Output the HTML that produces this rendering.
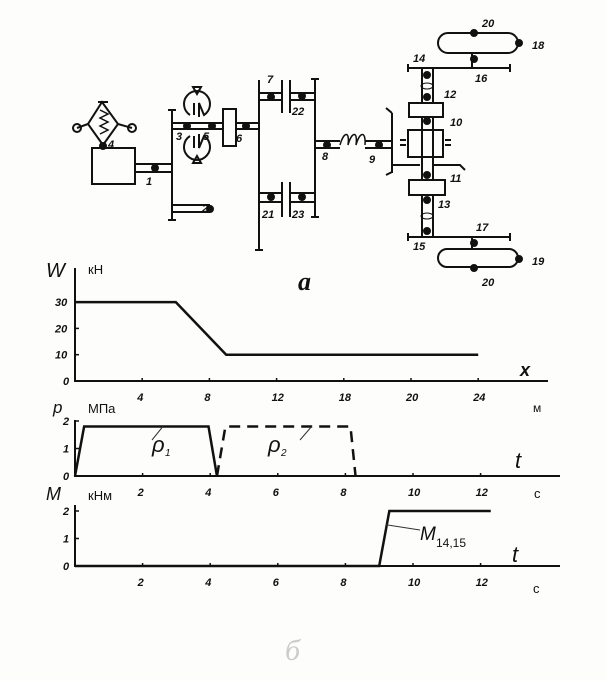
<!DOCTYPE html>
<html><head><meta charset="utf-8"><style>
html,body{margin:0;padding:0;background:#fdfdfb;}
svg{display:block;}
text{font-family:"Liberation Sans",sans-serif;fill:#111;}
.n{font-size:11px;font-style:italic;font-weight:bold;}
.tk{font-size:11px;font-style:italic;font-weight:bold;}
</style></head><body>
<svg id="fig" width="606" height="680" viewBox="0 0 606 680">
<g id="schema" stroke="#111" stroke-width="2" fill="none">
  <rect x="92" y="148" width="43" height="36"/>
  <path d="M102 102 L88 124 L103 145 L118 124 Z M98 102 h10 M88 124 L77 128 M118 124 L132 128"/>
  <path d="M100 110 l8 4 l-8 4 l8 4 l-8 4 l8 4 l-8 4" stroke-width="1.5"/>
  <circle cx="77" cy="128" r="4"/><circle cx="132" cy="128" r="4"/>
  <circle cx="103" cy="146" r="3" fill="#111"/>
  <path d="M135 164 H172 M135 172 H172"/><circle cx="155" cy="168" r="3" fill="#111"/>
  <path d="M172 110 V220 M168 110 h8 M168 220 h8"/>
  <path d="M173 205 H210 M173 212 H210"/><circle cx="210" cy="209" r="3" fill="#111"/>
  <path d="M173 123 H223 M173 129 H223"/><circle cx="187" cy="126" r="3" fill="#111"/><circle cx="212" cy="126" r="3" fill="#111"/>
  <path d="M190 115 A13 13 0 1 1 204 115 L199 103 L199 117 M194 115 L194 103" />
  <path d="M190 136 A13 13 0 1 0 204 136 L199 148 L199 134 M194 136 L194 148"/>
  <path d="M193 87 h8 l-4 7 z M193 163 h8 l-4 -7 z"/>
  <rect x="223" y="109" width="13" height="37"/>
  <path d="M236 123 H259 M236 129 H259"/><circle cx="246" cy="126" r="3" fill="#111"/>
  <path d="M259 80 V250 M255 250 h8"/>
  <path d="M259 93 H282 M259 100 H282 M282 80 V113 M290 80 V113 M290 93 H315 M290 100 H315"/>
  <circle cx="271" cy="97" r="3" fill="#111"/><circle cx="302" cy="96" r="3" fill="#111"/>
  <path d="M259 193 H282 M259 202 H282 M282 182 V217 M290 182 V217 M290 193 H315 M290 202 H315"/>
  <circle cx="271" cy="197" r="3" fill="#111"/><circle cx="302" cy="197" r="3" fill="#111"/>
  <path d="M315 79 V217 M311 79 h8 M311 217 h8"/>
  <path d="M315 141 H340 M315 148 H340 M365 141 H392 M365 148 H392"/>
  <circle cx="327" cy="145" r="3" fill="#111"/><circle cx="379" cy="145" r="3" fill="#111"/>
  <path d="M340 145 c4 -14 10 -14 8 0 c4 -14 10 -14 8 0 c4 -14 10 -14 9 0" stroke-width="1.5"/>
  <path d="M392 113 V173 M386 108 l6 5 M386 175 l6 -3"/>
  <rect x="408" y="130" width="35" height="27"/>
  <path d="M400 140 h6 M400 145 h6 M445 140 h6 M445 145 h6 M392 165 H420 M434 165 H460 l5 5"/>
  <path d="M422 68 V237 M433 68 V237"/>
  <rect x="409" y="103" width="34" height="14" fill="#fdfdfb"/><rect x="409" y="180" width="36" height="15" fill="#fdfdfb"/>
  <circle cx="427" cy="121" r="3" fill="#111"/><circle cx="427" cy="97" r="3" fill="#111"/><circle cx="427" cy="75" r="3" fill="#111"/>
  <circle cx="427" cy="175" r="3" fill="#111"/><circle cx="427" cy="200" r="3" fill="#111"/><circle cx="427" cy="231" r="3" fill="#111"/>
  <ellipse cx="427" cy="86" rx="6" ry="3" stroke-width="1"/><ellipse cx="427" cy="216" rx="6" ry="3" stroke-width="1"/>
  <path d="M408 68 H510 M408 64 v8 M510 64 v8 M408 237 H510 M408 233 v8 M510 233 v8"/>
  <rect x="438" y="33" width="80" height="20" rx="10"/>
  <rect x="438" y="249" width="80" height="18" rx="9"/>
  <path d="M472 53 V68 M472 237 V249"/>
  <circle cx="474" cy="59" r="3" fill="#111"/><circle cx="474" cy="243" r="3" fill="#111"/>
  <circle cx="474" cy="33" r="3" fill="#111"/><circle cx="519" cy="43" r="3" fill="#111"/>
  <circle cx="519" cy="259" r="3" fill="#111"/><circle cx="474" cy="268" r="3" fill="#111"/>
</g>
<g class="n">
  <text x="146" y="185" class="n">1</text><text x="202" y="212" class="n">2</text><text x="176" y="140" class="n">3</text>
  <text x="108" y="148" class="n">4</text><text x="203" y="140" class="n">5</text><text x="236" y="142" class="n">6</text>
  <text x="267" y="83" class="n">7</text><text x="322" y="160" class="n">8</text><text x="369" y="163" class="n">9</text>
  <text x="450" y="126" class="n">10</text><text x="450" y="182" class="n">11</text><text x="444" y="98" class="n">12</text>
  <text x="438" y="208" class="n">13</text><text x="413" y="62" class="n">14</text><text x="413" y="250" class="n">15</text>
  <text x="475" y="82" class="n">16</text><text x="476" y="231" class="n">17</text><text x="532" y="49" class="n">18</text>
  <text x="532" y="265" class="n">19</text><text x="482" y="27" class="n">20</text><text x="482" y="286" class="n">20</text>
  <text x="262" y="218" class="n">21</text><text x="292" y="115" class="n">22</text><text x="292" y="218" class="n">23</text>
  <text x="298" y="290" style="font-size:26px;font-style:italic;font-family:'Liberation Serif',serif" fill="#223">а</text>
</g>
<g id="charts"></g>
<text x="285" y="660" style="font-size:30px;font-style:italic;font-family:'Liberation Serif',serif;fill:#ccc">б</text>
</svg>
<script>
// Chart W(x)
const wX=[0,6,9,24];
const wY=[30,30,10,10];
const wXTicks=[4,8,12,16,20,24];
const wXTickLabels=["4","8","12","18","20","24"];
const wYTicks=[0,10,20,30];
// Chart p(t)
const p1T=[0,0.27,3.95,4.2];
const p1V=[0,1.8,1.8,0];
const p2T=[4.2,4.45,8.15,8.3];
const p2V=[0,1.8,1.8,0];
const tTicks=[2,4,6,8,10,12];
const pYTicks=[0,1,2];
// Chart M(t)
const mT=[0,9.0,9.3,12.3];
const mV=[0,0,2,2];
const mYTicks=[0,1,2];

const NS="http://www.w3.org/2000/svg";
const root=document.getElementById('charts');
function mk(tag,attrs,parent){const e=document.createElementNS(NS,tag);for(const k in attrs)e.setAttribute(k,attrs[k]);(parent||root).appendChild(e);return e;}
function txt(x,y,s,cls,style){const t=mk('text',{x:x,y:y});if(cls)t.setAttribute('class',cls);if(style)t.setAttribute('style',style);t.textContent=s;return t;}

function chart(cfg){
  const g=mk('g',{});
  
  
  const sx=v=>cfg.x0+v*cfg.kx, sy=v=>cfg.y0-v*cfg.ky;
  const ax=mk('path',{d:`M${cfg.x0} ${cfg.yTop} V${cfg.y0} H${cfg.xEnd}`,stroke:'#111','stroke-width':2,fill:'none'},g);
  
  
  cfg.xt.forEach((v,i)=>{
    mk('path',{d:`M${sx(v)} ${cfg.y0-3} V${cfg.y0}`,stroke:'#111','stroke-width':1.5},g);
    const t=txt(sx(v)-5,cfg.y0+cfg.lblDy,cfg.xl[i],'tk');g.appendChild(t);
    
    
  });
  cfg.yt.forEach(v=>{
    mk('path',{d:`M${cfg.x0} ${sy(v)} h4`,stroke:'#111','stroke-width':1.5},g);
    const t=txt(cfg.x0-(String(v).length>1?20:12),sy(v)+4,String(v),'tk');g.appendChild(t);
    
    
  });
  cfg.series.forEach(s=>{
    const d=s.xs.map((v,i)=>(i?'L':'M')+sx(v)+' '+sy(s.ys[i])).join(' ');
    const p=mk('path',{d:d,stroke:'#111','stroke-width':2.5,fill:'none','stroke-dasharray':s.dash||'none'},g);
    
    
  });
  return {g,sx,sy};
}
const c1=chart({name:'w-chart',x0:75,y0:381,kx:16.8,ky:2.63,yTop:268,xEnd:548,xt:wXTicks,xl:wXTickLabels,yt:wYTicks,lblDy:20,
  series:[{name:'w-line',xs:wX,ys:wY}]});
const c2=chart({name:'p-chart',x0:75,y0:476,kx:33.8,ky:27.5,yTop:420,xEnd:560,xt:tTicks,xl:tTicks.map(String),yt:pYTicks,lblDy:20,
  series:[{name:'p1-line',xs:p1T,ys:p1V},{name:'p2-line',xs:p2T,ys:p2V,dash:'11 7'}]});
const c3=chart({name:'m-chart',x0:75,y0:566,kx:33.8,ky:27.5,yTop:505,xEnd:560,xt:tTicks,xl:tTicks.map(String),yt:mYTicks,lblDy:20,
  series:[{name:'m-line',xs:mT,ys:mV}]});
// labels
const L=[[46,277,'W','font-size:20px;font-style:italic','w-axis-title'],[88,274,'кН','font-size:13px','w-unit'],
[520,376,'x','font-size:18px;font-style:italic;font-weight:bold','x-axis-title'],[533,412,'м','font-size:12px','x-unit'],
[53,413,'p','font-size:17px;font-style:italic','p-axis-title'],[88,413,'МПа','font-size:13px','p-unit'],
[515,468,'t','font-size:22px;font-style:italic','t-axis-title'],[534,498,'с','font-size:13px','t-unit'],
[46,500,'M','font-size:18px;font-style:italic','m-axis-title'],[88,500,'кНм','font-size:13px','m-unit'],
[512,562,'t','font-size:22px;font-style:italic','t-axis-title-2'],[533,593,'c','font-size:13px','t-unit-2'],
[152,452,'ρ','font-size:22px;font-style:italic','p1-label'],[165,456,'1','font-size:10px;font-style:italic','p1-sub'],
[268,452,'ρ','font-size:22px;font-style:italic','p2-label'],[281,456,'2','font-size:10px;font-style:italic','p2-sub'],
[420,540,'M','font-size:19px;font-style:italic','m-series-label'],[436,547,'14,15','font-size:12px','m-sub']];
L.forEach(a=>{const t=txt(a[0],a[1],a[2],null,a[3]);});
// leader lines
mk('path',{d:`M${c2.sx(2.6)} ${c2.sy(1.8)} L152 440 M${c2.sx(7)} ${c2.sy(1.8)} L300 440 M${c3.sx(9.2)} ${c3.sy(1.5)} L420 530`,stroke:'#333','stroke-width':1,fill:'none'});
</script>
</body></html>
